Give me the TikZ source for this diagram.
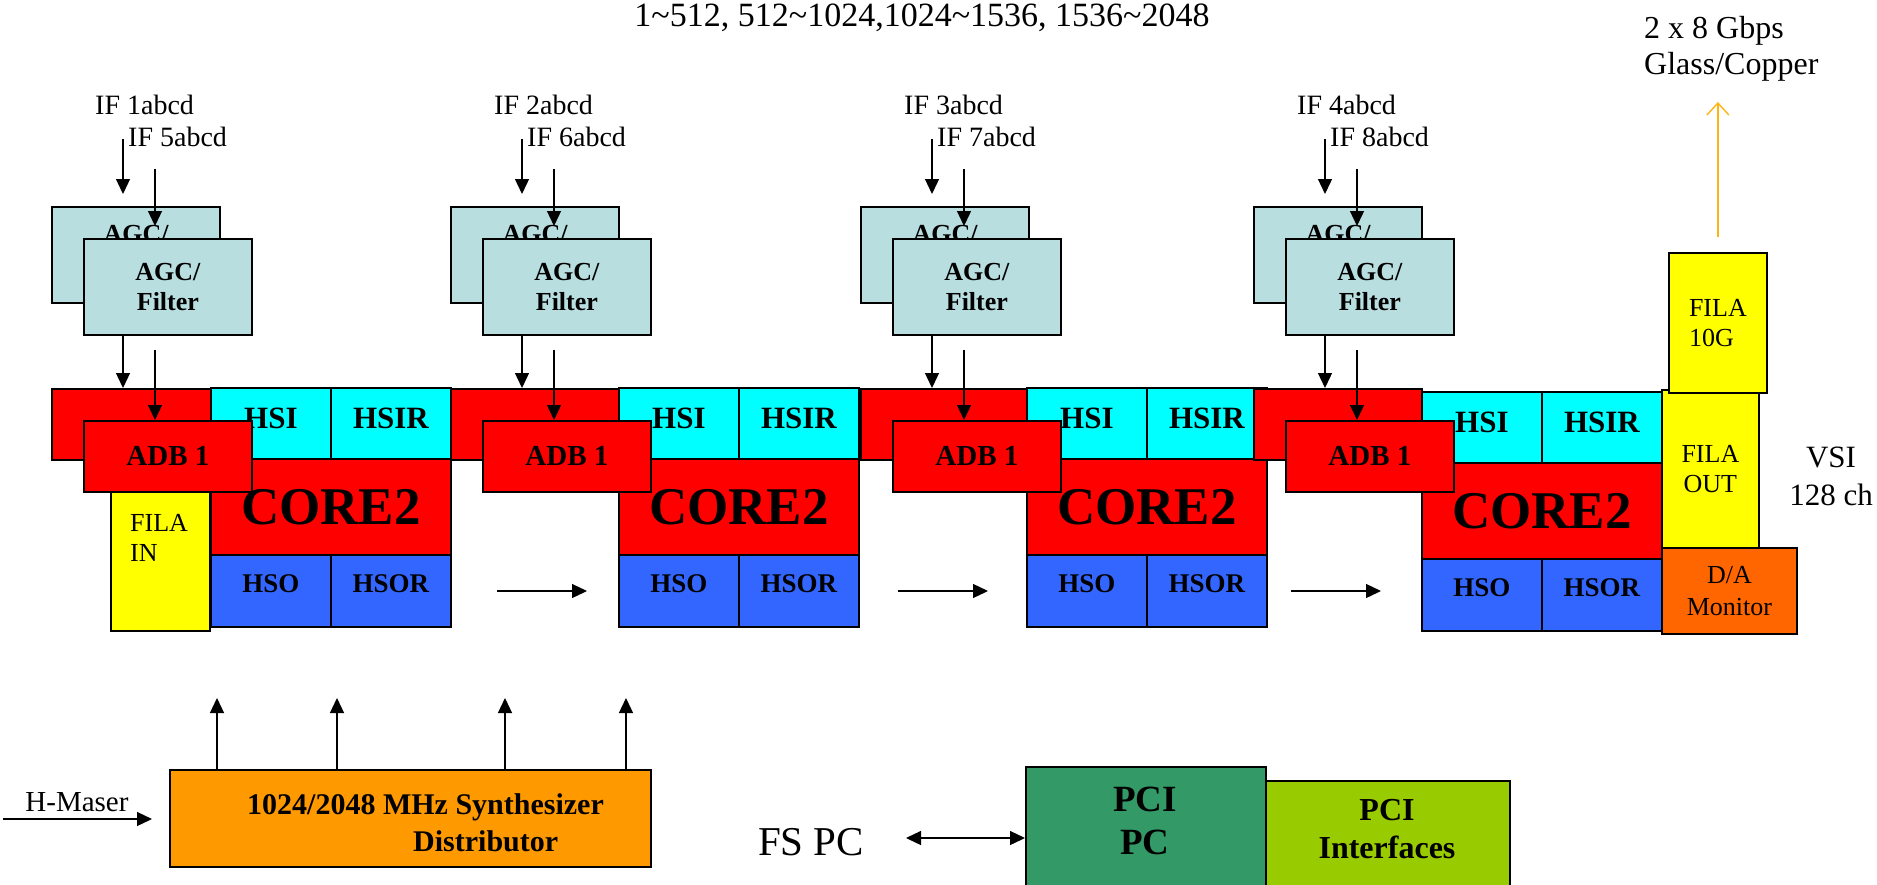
\documentclass[tikz,border=0pt]{standalone}
\usepackage{fontspec}
\setmainfont{Liberation Serif}
\usetikzlibrary{arrows.meta}

\definecolor{agcblue}{HTML}{B8DEE0}
\definecolor{adbred}{HTML}{FF0000}
\definecolor{hsicyan}{HTML}{00FFFF}
\definecolor{hsoblue}{HTML}{3366FF}
\definecolor{filayellow}{HTML}{FFFF00}
\definecolor{daorange}{HTML}{FF6600}
\definecolor{synthorange}{HTML}{FF9900}
\definecolor{pcigreen}{HTML}{339966}
\definecolor{pcilime}{HTML}{99CC00}
\definecolor{linkgold}{HTML}{FDB515}

\begin{document}
\begin{tikzpicture}[x=1pt, y=-1pt,
    >={Triangle[length=15pt,width=14pt]},
    blk/.style={draw=black, line width=1.8pt, inner sep=0pt, anchor=north west},
    agc/.style={blk, fill=agcblue, minimum width=168pt, minimum height=96pt, align=center, font=\bfseries\fontsize{26}{30}\selectfont},
    adb/.style={blk, fill=adbred, minimum width=168pt, minimum height=71pt, font=\bfseries\fontsize{29}{34}\selectfont},
    hsi/.style={blk, fill=hsicyan, minimum width=120pt, minimum height=71pt, text depth=10pt, font=\bfseries\fontsize{31}{36}\selectfont},
    core/.style={blk, fill=adbred, minimum width=240pt, minimum height=96pt, font=\bfseries\fontsize{53}{60}\selectfont},
    hso/.style={blk, fill=hsoblue, minimum width=120pt, minimum height=72pt, text depth=14pt, font=\bfseries\fontsize{27}{32}\selectfont},
    fila/.style={blk, fill=filayellow, font=\fontsize{26}{30}\selectfont},
    lbl/.style={inner sep=0pt, font=\fontsize{28}{32}\selectfont},
    arr/.style={->, line width=1.3pt},
  ]
    \useasboundingbox (0,0) rectangle (1877,884);
    \clip (0,0) rectangle (1877,884);
    \fill[white] (0,0) rectangle (1877,884);

    \node[lbl, font=\fontsize{34}{40}\selectfont] (bands) at (922,18)
      {1\textasciitilde 512, 512\textasciitilde 1024,1024\textasciitilde 1536, 1536\textasciitilde 2048};

    % four IF chains
    \foreach \s/\a/\h/\cy/\na/\nb in {1/51/210/0/1/5, 2/450/618/0/2/6, 3/860/1026/0/3/7, 4/1253/1421/4/4/8} {
      \node[lbl, anchor=west] (ifa\s) at ({\a+44},105) {IF \na abcd};
      \node[lbl, anchor=west] (ifb\s) at ({\a+77},137) {IF \nb abcd};
      \coordinate (ina\s) at ({\a+72},139);
      \coordinate (inb\s) at ({\a+104},169);

      \node[agc] (agcb\s) at (\a,206) {};
      \node[lbl, font=\bfseries\fontsize{26}{30}\selectfont] (agcbtxt\s) at ({\a+85},234) {AGC/};
      \node[agc] (agcf\s) at ({\a+32},238) {AGC/\\Filter};
      \node[adb] (adbb\s) at (\a,388) {};

      \node[hsi] (hsi\s) at (\h,{387+\cy}) {HSI};
      \node[hsi] (hsir\s) at ({\h+120},{387+\cy}) {HSIR};
      \node[core] (core\s) at (\h,{458+\cy}) {CORE2};
      \node[hso] (hso\s) at (\h,{554+\cy}) {HSO};
      \node[hso] (hsor\s) at ({\h+120},{554+\cy}) {HSOR};

      \node[adb] (adbf\s) at ({\a+32},420) {ADB 1};

      \draw[arr, shorten >=12pt] (ina\s) -- (agcb\s.north -| ina\s);
      \draw[arr, shorten >=12pt] (inb\s) -- (agcf\s.north -| inb\s);
      \draw[arr] (agcf\s.south -| ina\s) -- (adbb\s.north -| ina\s);
      \draw[arr, shorten <=14pt] (agcf\s.south -| inb\s) -- (adbf\s.north -| inb\s);
    }

    \node[fila, minimum width=99pt, minimum height=139pt] (filain) at (110,491) {};
    \node[lbl, anchor=north west, align=left, font=\fontsize{26}{30}\selectfont] (filaintxt)
      at ([xshift=20pt,yshift=-23pt]filain.north west) {FILA\\IN};

    \foreach \s/\xa in {2/497, 3/898, 4/1291} {
      \coordinate (flowa\s) at (\xa,591);
      \coordinate (flowb\s) at ({\xa+90},591);
      \draw[arr] (flowa\s) -- (flowb\s);
    }

    % output side
    \node[fila, minimum width=97pt, minimum height=158pt, align=center] (filaout) at (1661,389) {FILA\\OUT};
    \node[fila, minimum width=98pt, minimum height=140pt, align=left] (fila10g) at (1668,252) {FILA\\10G};
    \node[blk, fill=daorange, minimum width=135pt, minimum height=86pt, align=center,
          font=\fontsize{26}{32}\selectfont] (damon) at (1661,547) {D/A\\Monitor};
    \node[lbl, align=center, font=\fontsize{31}{38}\selectfont] (vsi) at (1831,476) {VSI\\128 ch};
    \node[lbl, anchor=north west, align=left, font=\fontsize{32}{36}\selectfont] (gbps) at (1644,16)
      {2 x 8 Gbps\\Glass/Copper};
    \coordinate (uplink) at (1713,102);
    \draw[draw=linkgold, line width=1.4pt, -{Straight Barb[length=12pt,width=22pt]}, shorten <=15pt]
      (fila10g.north) -- (fila10g.north |- uplink);

    % clock distribution
    \node[blk, fill=synthorange, minimum width=481pt, minimum height=97pt] (synth) at (169,769) {};
    \node[lbl, anchor=north west, align=left, font=\bfseries\fontsize{30}{37}\selectfont] (synthtxt) at (247,793)
      {1024/2048 MHz Synthesizer\\\hspace*{166pt}Distributor};
    \foreach \x [count=\k] in {217,337,505,626} {
      \coordinate (clk\k) at (\x,698);
      \draw[arr] (synth.north -| clk\k) -- (clk\k);
    }
    \node[lbl, font=\fontsize{29}{34}\selectfont] (hmaser) at (77,802) {H-Maser};
    \coordinate (maserin) at (3,819);
    \draw[arr, shorten >=17pt] (maserin) -- (maserin -| synth.west);

    % control PC
    \node[lbl, font=\fontsize{41}{48}\selectfont] (fspc) at (811,842) {FS PC};
    \node[blk, fill=pcilime, minimum width=244pt, minimum height=130pt] (pciif) at (1265,780) {};
    \node[blk, fill=pcigreen, minimum width=240pt, minimum height=140pt] (pcipc) at (1025,766) {};
    \node[lbl, align=center, font=\bfseries\fontsize{37}{43}\selectfont] (pcipctxt) at (1145,821) {PCI\\PC};
    \node[lbl, align=center, font=\bfseries\fontsize{32}{38}\selectfont] (pciiftxt) at (1387,829) {PCI\\Interfaces};
    \coordinate (fsend) at (906,838);
    \draw[<->, line width=1.3pt] (fsend) -- (fsend -| pcipc.west);
\end{tikzpicture}
\end{document}
